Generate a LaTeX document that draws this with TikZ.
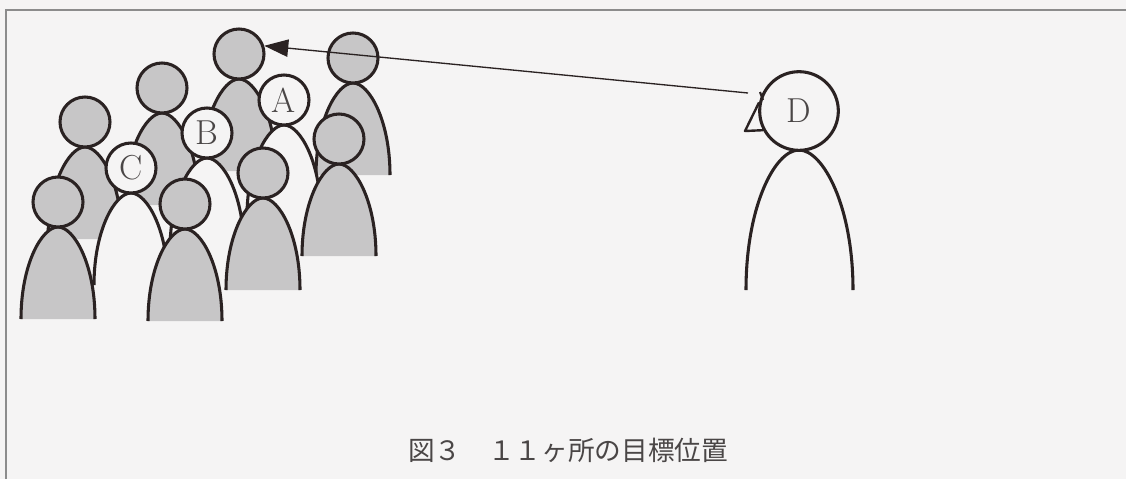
\documentclass[tikz,border=0pt]{standalone}
\usepackage{fontspec}
\newfontfamily\jpfont{Noto Sans CJK JP}
\usetikzlibrary{arrows.meta}

\definecolor{paper}{HTML}{F5F4F4}
\definecolor{crowd}{HTML}{C7C6C7}
\definecolor{ink}{HTML}{2A2222}
\definecolor{letter}{HTML}{4A4646}

\begin{document}
\begin{tikzpicture}[
		x=0.75pt, y=-0.75pt,
		line width=2.3pt,
		head/.style={circle,draw=ink,inner sep=0pt,minimum size=37.5pt,
			font=\fontsize{26}{26}\selectfont,text=letter},
		body/.style={draw=ink,line join=round},
		sight/.style={draw=ink,line width=1pt,-{Triangle[length=18pt,width=13pt]}},
		frame/.style={draw=black!45,line width=1.5pt},
		caption/.style={font=\jpfont\fontsize{20}{20}\selectfont,text=letter}
		]
		\useasboundingbox (0,0) rectangle (1126,479);
		\fill[paper] (0,0) rectangle (1126,479);
		\draw[frame] (6,479) -- (6,10) -- (1126,10);
		
		% the crowd, back rows first
		\foreach \px/\py/\pc/\pl/\pn in {
			239/54/crowd//p1, 353/58/crowd//p2, 162/88/crowd//p3, 85/122/crowd//p4,
			284/100/paper/A/a, 207/133/paper/B/b, 131/168/paper/C/c,
			339/139/crowd//p8, 263/173/crowd//p9, 185/204/crowd//p10, 58/202/crowd//p11}
		{
			\filldraw[body,fill=\pc] ({\px-37},{\py+117})
				.. controls ({\px-37},{\py+62}) and ({\px-16},{\py+25}) .. (\px,{\py+25})
				.. controls ({\px+16},{\py+25}) and ({\px+37},{\py+62}) .. ({\px+37},{\py+117});
			\node[head,fill=\pc] (\pn) at (\px,\py) {\pl};
		}
		
		% the observer
		\draw[body] (746,290) .. controls (746,206) and (775,150) .. (799,150)
			.. controls (823,150) and (853,206) .. (853,290);
		\node[head,fill=paper,minimum size=59pt] (d) at (799,111) {D};
		\draw[body,line width=1.8pt] (d.168) -- (745,131) -- (d.208);
		\draw[body,line width=1.6pt] (760,92) -- (763,100);
		
		\coordinate (eye) at (748,93);
		\draw[sight] (eye) -- (p1.18);
		
		\node[caption] (cap) at (568,450) {図３　１１ヶ所の目標位置};
\end{tikzpicture}
\end{document}
